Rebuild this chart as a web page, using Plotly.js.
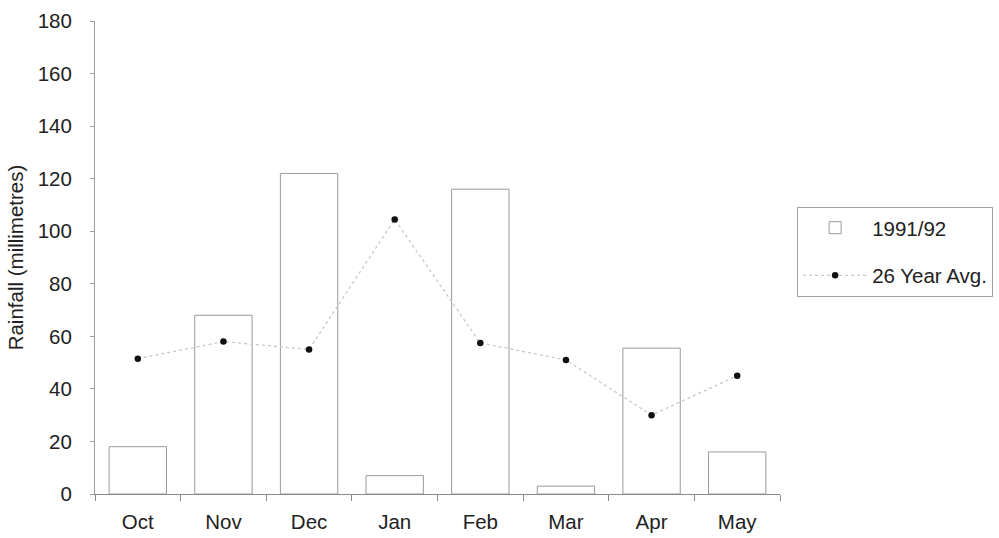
<!DOCTYPE html>
<html>
<head>
<meta charset="utf-8">
<script src="https://cdn.plot.ly/plotly-3.0.1.min.js"></script>
<style>
  html, body { margin: 0; padding: 0; background: #fff; }
  #chart { width: 999px; height: 538px; }
</style>
</head>
<body>
<div id="chart"></div>
<script>
// Monthly rainfall, season 1991/92 against the 26-year average
const months = ['Oct', 'Nov', 'Dec', 'Jan', 'Feb', 'Mar', 'Apr', 'May'];
const rain199192 = [18, 68, 122, 7, 116, 3, 55.5, 16];
const avg26yr = [51.5, 58, 55, 104.5, 57.5, 51, 30, 45];
const yTicks = [0, 20, 40, 60, 80, 100, 120, 140, 160, 180];

const FONT = 'Liberation Sans, Arial, sans-serif';
const FS = 20.5;

const traces = [
  {
    type: 'bar',
    name: '1991/92',
    x: months,
    y: rain199192,
    legendgroup: 'a',
    marker: { color: '#ffffff', line: { color: '#9a9a9a', width: 1 } },
    hoverinfo: 'x+y'
  },
  {
    type: 'scatter',
    mode: 'lines+markers',
    name: '26 Year Avg.',
    x: months,
    y: avg26yr,
    legendgroup: 'b',
    line: { color: '#c8c8c8', width: 1.3, dash: 'dot' },
    marker: { color: '#111111', size: 6.5 }
  }
];

const layout = {
  width: 999,
  height: 538,
  paper_bgcolor: '#ffffff',
  plot_bgcolor: '#ffffff',
  margin: { l: 95, r: 219, t: 21, b: 44, autoexpand: false },
  font: { family: FONT, size: FS, color: '#222' },
  bargap: 0.33,
  showlegend: true,
  legend: {
    x: 1.025, xanchor: 'left',
    y: 0.607, yanchor: 'top',
    bordercolor: '#a0a0a0', borderwidth: 1,
    bgcolor: '#ffffff',
    font: { family: FONT, size: FS, color: '#222' },
    traceorder: 'grouped',
    tracegroupgap: 18,
    itemwidth: 64
  },
  xaxis: {
    type: 'category',
    showgrid: false,
    zeroline: false,
    showline: true,
    linecolor: '#8a8a8a',
    linewidth: 1,
    ticks: 'outside',
    tickson: 'boundaries',
    ticklen: 6,
    tickcolor: '#8a8a8a',
    ticklabelstandoff: 9,
    tickfont: { family: FONT, size: FS, color: '#222' }
  },
  yaxis: {
    range: [0, 180],
    tickvals: yTicks,
    ticktext: yTicks.map(String),
    showgrid: false,
    zeroline: false,
    showline: true,
    linecolor: '#a0a0a0',
    linewidth: 1,
    ticks: 'outside',
    ticklen: 4,
    tickcolor: '#a0a0a0',
    ticklabelstandoff: 14,
    tickfont: { family: FONT, size: FS, color: '#222' },
    title: { text: 'Rainfall (millimetres)', font: { family: FONT, size: FS, color: '#222' }, standoff: 8 }
  }
};

Plotly.newPlot('chart', traces, layout, { displayModeBar: false, staticPlot: true });
</script>
</body>
</html>
